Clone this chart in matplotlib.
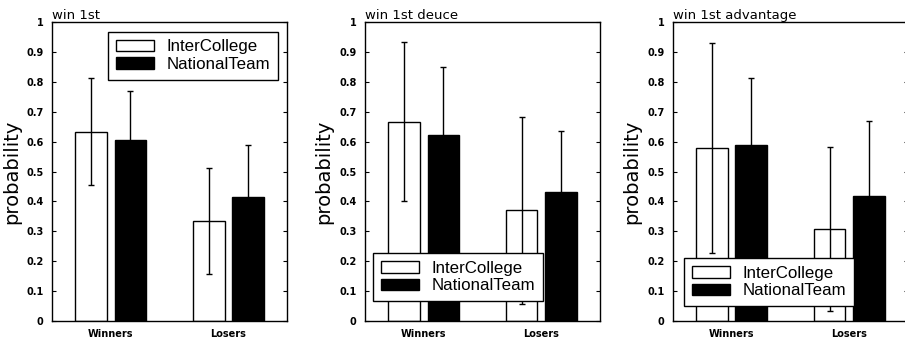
import numpy as np
import matplotlib
matplotlib.use('Agg')
import matplotlib.pyplot as plt

groups = ['Winners', 'Losers']
titles = ['win 1st', 'win 1st deuce', 'win 1st advantage']

inter_mean = [[0.633, 0.335], [0.667, 0.370], [0.578, 0.308]]
inter_err = [[0.178, 0.178], [0.265, 0.313], [0.352, 0.274]]
nat_mean = [[0.605, 0.415], [0.622, 0.433], [0.588, 0.418]]
nat_err = [[0.165, 0.175], [0.226, 0.203], [0.225, 0.252]]

yticks = [0, 0.1, 0.2, 0.3, 0.4, 0.5, 0.6, 0.7, 0.8, 0.9, 1]

fig = plt.figure(figsize=(9.05, 3.43), dpi=100)
lefts = [0.0575, 0.4033, 0.7436]
legend_spots = [('upper right', (0.96, 0.967)),
                ('lower left', (0.034, 0.067)),
                ('lower left', (0.047, 0.05))]

x = np.arange(1, len(groups) + 1)
w = 0.27
off = 0.167

for i in range(3):
    ax = fig.add_axes([lefts[i], 0.064, 0.2597, 0.872])
    ax.bar(x - off, inter_mean[i], w, color='white', edgecolor='black',
           linewidth=1, label='InterCollege', zorder=2)
    ax.bar(x + off, nat_mean[i], w, color='black', edgecolor='black',
           linewidth=1, label='NationalTeam', zorder=2)
    ax.errorbar(x - off, inter_mean[i], yerr=inter_err[i], fmt='none',
                ecolor='black', elinewidth=1, capsize=2, zorder=3)
    ax.errorbar(x + off, nat_mean[i], yerr=nat_err[i], fmt='none',
                ecolor='black', elinewidth=1, capsize=2, zorder=1)
    ax.set_xlim(0.5, 2.5)
    ax.set_ylim(0, 1)
    ax.set_xticks(x)
    ax.set_xticklabels(groups, fontsize=7, fontweight='bold')
    ax.tick_params(axis='x', length=0, pad=6)
    ax.set_yticks(yticks)
    ax.set_yticklabels(['%g' % t for t in yticks], fontsize=7,
                       fontweight='bold')
    ax.tick_params(axis='y', direction='in', length=3, right=True, pad=6)
    ax.set_ylabel('probability', fontsize=14, labelpad=4)
    ax.set_title(titles[i], loc='left', fontsize=9.5, pad=2)
    loc, anchor = legend_spots[i]
    leg = ax.legend(loc=loc, bbox_to_anchor=anchor,
                    prop={'family': 'Liberation Sans', 'size': 12.2},
                    fancybox=False, edgecolor='black', framealpha=1,
                    borderaxespad=0, handlelength=2.25, handleheight=0.7,
                    labelspacing=0.15, borderpad=0.45, handletextpad=0.75)
    leg.get_frame().set_linewidth(1)
    for s in ax.spines.values():
        s.set_linewidth(1)

fig.savefig('out.png', dpi=100)
